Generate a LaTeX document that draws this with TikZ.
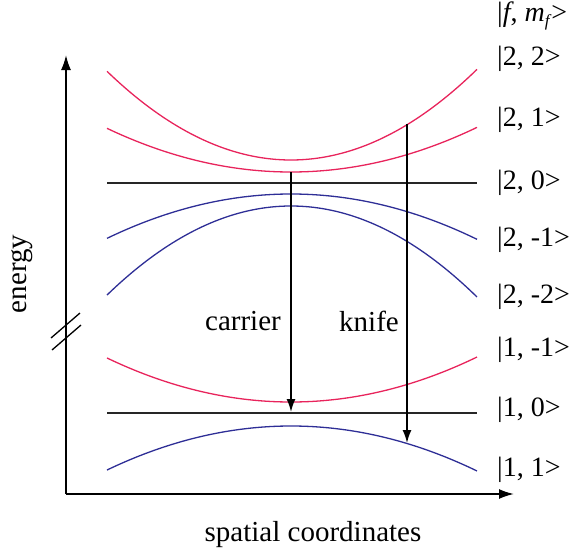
\documentclass[tikz,border=0pt]{standalone}
\usepackage{fontspec}
\setmainfont{Liberation Serif}
\usetikzlibrary{arrows.meta}
\definecolor{lred}{RGB}{232,36,92}
\definecolor{lblue}{RGB}{46,46,150}
\begin{document}
\begin{tikzpicture}[x=1pt,y=-1pt,
  axis/.style={line width=1.8pt, -{Latex[length=15pt,width=10pt]}},
  curve/.style={line width=1.3pt},
  level/.style={line width=1.3pt, black!85},
  trans/.style={line width=1.6pt, -{Latex[length=13pt,width=9pt]}},
  lbl/.style={font=\rmfamily\fontsize{28}{31}\selectfont, inner sep=0pt, anchor=west},
  txt/.style={font=\rmfamily\fontsize{29}{32}\selectfont, inner sep=0pt}]
\useasboundingbox (0,0) rectangle (581,554);
% axes
\coordinate (o) at (66,494);
\coordinate (ytip) at (66,55);
\coordinate (xtip) at (514,494);
\draw[axis] (o) -- (ytip);
\draw[axis] (o) -- (xtip);
% axis break
\draw[line width=1.3pt] (51,338) -- (80,313);
\draw[line width=1.3pt] (52,350) -- (81,325);
% F=2 manifold
\draw[curve, lred] plot[domain=107:477, samples=80] (\x, {160-26.2*((\x-291)/100)^2});
\draw[curve, lred] plot[domain=107:477, samples=80] (\x, {172-12.9*((\x-291)/100)^2});
\draw[level] (107,183) -- (477,183);
\draw[curve, lblue] plot[domain=107:477, samples=80] (\x, {194+13.1*((\x-291)/100)^2});
\draw[curve, lblue] plot[domain=107:477, samples=80] (\x, {206+26.3*((\x-291)/100)^2});
% F=1 manifold
\draw[curve, lred] plot[domain=107:477, samples=80] (\x, {402-13.0*((\x-291)/100)^2});
\draw[level] (107,413) -- (477,413);
\draw[curve, lblue] plot[domain=107:477, samples=80] (\x, {426+13.0*((\x-291)/100)^2});
% transitions
\coordinate (c1) at (291,172);
\coordinate (c2) at (291,412);
\coordinate (k1) at (407,124);
\coordinate (k2) at (407,443);
\draw[trans] (c1) -- (c2);
\draw[trans] (k1) -- (k2);
\node[txt] (carrier) at (243,321) {carrier};
\node[txt] (knife) at (369,321) {knife};
% state labels
\node[lbl] (lfm) at (497,16) {|\textit{f}, \textit{m}\raisebox{-0.4ex}{\fontsize{17}{18}\selectfont\textit{f}}>};
\node[lbl] (l22) at (497,59) {|2, 2>};
\node[lbl] (l21) at (497,120) {|2, 1>};
\node[lbl] (l20) at (497,183) {|2, 0>};
\node[lbl] (l2m1) at (497,240) {|2, -1>};
\node[lbl] (l2m2) at (497,297) {|2, -2>};
\node[lbl] (l1m1) at (497,350) {|1, -1>};
\node[lbl] (l10) at (497,410) {|1, 0>};
\node[lbl] (l11) at (497,470) {|1, 1>};
% axis labels
\node[txt, rotate=90] (energy) at (22,274) {energy};
\node[txt] (spatial) at (313,535) {spatial coordinates};
\end{tikzpicture}
\end{document}
